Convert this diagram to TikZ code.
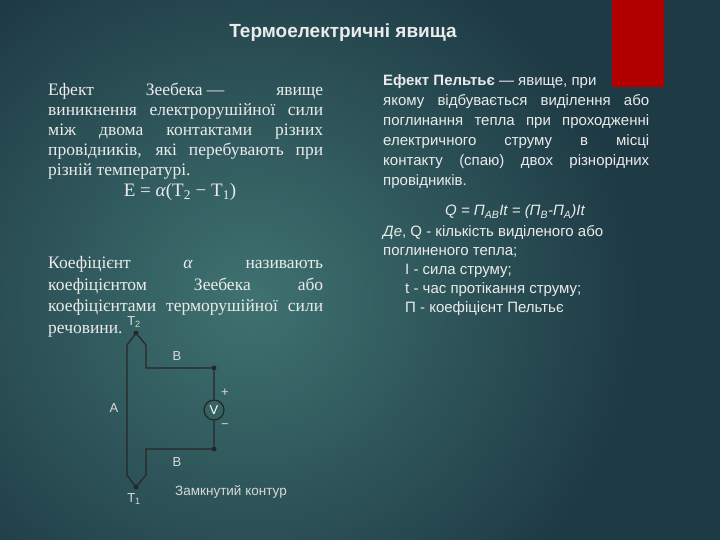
\documentclass[tikz,border=0pt]{standalone}
\usepackage{fontspec}
\setmainfont{Liberation Serif}
\setsansfont{Liberation Sans}
\definecolor{bgout}{HTML}{1E3A45}
\definecolor{bgin}{HTML}{3F7270}
\begin{document}
\begin{tikzpicture}[x=1pt,y=-1pt,
  wire/.style={draw=black!85,line width=1.2pt},
  dot/.style={circle,fill=black!85,inner sep=0pt,minimum size=5pt},
  lbl/.style={text=white!85!black,font=\sffamily\fontsize{13}{15}\selectfont,inner sep=1pt},
  txt/.style={text=white!92!black,anchor=north west,inner sep=0pt}]
\useasboundingbox (0,0) rectangle (720,540);
\fill[bgout] (0,0) rectangle (720,540);
\shade[inner color=bgin, outer color=bgout] (-140,-80) rectangle (640,680);
\fill[red!70!black] (612,0) rectangle (664,87);
\node[txt,anchor=center,font=\sffamily\bfseries\fontsize{19}{22}\selectfont] (title) at (343,33) {Термоелектричні явища};
\node[txt,text width=275pt,align=justify,font=\fontsize{17.5}{20}\selectfont] (p1) at (48,83)
{Ефект \hfill Зеебека — \hfill явище\linebreak виникнення електрорушійної сили\linebreak між двома контактами різних\linebreak провідників, які перебувають при\linebreak різній температурі.};
\node[txt,anchor=center,font=\fontsize{19}{22}\selectfont] (eq1) at (180,192) {E = \textit{α}(T\textsubscript{2} − T\textsubscript{1})};
\node[txt,text width=275pt,align=justify,font=\fontsize{17.5}{21.7}\selectfont] (p2) at (48,256)
{Коефіцієнт \hfill \textit{α} \hfill називають\linebreak коефіцієнтом \hfill Зеебека \hfill або\linebreak коефіцієнтами терморушійної сили\linebreak речовини.};
\node[txt,text width=266pt,align=justify,font=\sffamily\fontsize{15}{20}\selectfont] (p3) at (383,74)
{\textbf{Ефект Пельтьє} — явище, при\hfill\null\\ якому відбувається виділення або\linebreak поглинання тепла при проходженні\linebreak електричного струму в місці\linebreak контакту (спаю) двох різнорідних\linebreak провідників.};
\node[txt,anchor=center,font=\sffamily\itshape\fontsize{15}{16}\selectfont] (eq2) at (515,212) {Q = П\textsubscript{AB}It = (П\textsubscript{B}-П\textsubscript{A})It};
\node[txt,align=left,font=\sffamily\fontsize{15}{19}\selectfont] (p4) at (383,225)
{\textit{Де}, Q - кількість виділеного або\\ поглиненого тепла;\\ \hspace*{22pt}I - сила струму;\\ \hspace*{22pt}t - час протікання струму;\\ \hspace*{22pt}П - коефіцієнт Пельтьє};
% circuit
\node[dot] (t2) at (136,333) {};
\node[dot] (t1) at (136,487) {};
\node[dot] (r1) at (214,368) {};
\node[dot] (r2) at (214,449) {};
\node[circle,draw=black!85,line width=1.2pt,minimum size=20pt,inner sep=0pt,lbl,text=white] (v) at (214,410) {V};
\coordinate (al1) at (127,345); \coordinate (al2) at (127,475);
\coordinate (b1) at (146,345); \coordinate (b2) at (146,368);
\coordinate (b3) at (146,449); \coordinate (b4) at (146,475);
\draw[wire] (t2) -- (al1) -- (al2) -- (t1);
\draw[wire] (t2) -- (b1) -- (b2) -- (r1) -- (v) -- (r2) -- (b3) -- (b4) -- (t1);
\node[lbl] (lb1) at (177,356) {B};
\node[lbl] (lb2) at (177,462) {B};
\node[lbl] (la) at (114,408) {A};
\node[lbl] (lp) at (225,393) {+};
\node[lbl] (lm) at (225,426) {−};
\node[lbl] (lt2) at (134,322) {T\textsubscript{2}};
\node[lbl] (lt1) at (134,499) {T\textsubscript{1}};
\node[lbl,anchor=west,font=\sffamily\fontsize{13.5}{15}\selectfont] (cap) at (174,492) {Замкнутий контур};
\end{tikzpicture}
\end{document}
